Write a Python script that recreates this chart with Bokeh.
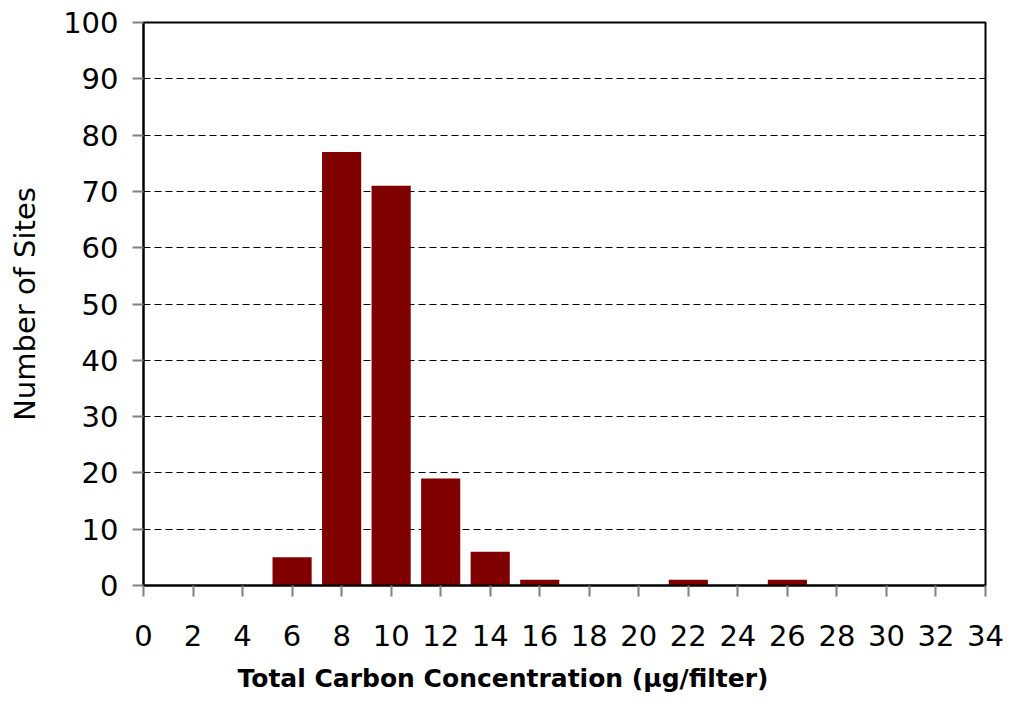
from bokeh.plotting import figure
from bokeh.models import Range1d, FixedTicker, ColumnDataSource, Title
from bokeh.embed import file_html
from bokeh.resources import INLINE

# Data
bin_centers = [2, 4, 6, 8, 10, 12, 14, 16, 18, 20, 22, 24, 26, 28, 30, 32]
site_counts = [0, 0, 5, 77, 71, 19, 6, 1, 0, 0, 1, 0, 1, 0, 0, 0]
x_ticks = list(range(0, 35, 2))
y_ticks = list(range(0, 101, 10))
x_title = "Total Carbon Concentration (µg/filter)"
y_title = "Number of Sites"

FONT = "DejaVu Sans"

p = figure(width=1004, height=706, output_backend="svg", toolbar_location=None,
           x_range=Range1d(0, 34), y_range=Range1d(0, 100),
           min_border_left=143, min_border_top=22, min_border_right=19,
           min_border_bottom=121)
p.background_fill_color = "white"
p.border_fill_color = "white"
p.outline_line_color = "black"
p.outline_line_width = 2

src = ColumnDataSource(dict(x=bin_centers, top=site_counts))
p.vbar(x="x", top="top", width=1.58, bottom=0, source=src,
       fill_color="#800000", line_color=None)

# grid
p.xgrid.visible = False
p.ygrid.ticker = FixedTicker(ticks=list(range(10, 100, 10)))
p.ygrid.grid_line_color = "black"
p.ygrid.grid_line_dash = "7 4"
p.ygrid.grid_line_width = 1

# axes
for ax in (p.xaxis[0], p.yaxis[0]):
    ax.axis_line_color = "black"
    ax.axis_line_width = 2
    ax.major_tick_line_color = "#808080"
    ax.major_tick_line_width = 2
    ax.major_tick_in = 0
    ax.major_tick_out = 11
    ax.minor_tick_line_color = None
    ax.major_label_text_font = FONT
    ax.major_label_text_font_size = "29px"
    ax.major_label_text_color = "black"

p.xaxis.ticker = FixedTicker(ticks=x_ticks)
p.yaxis.ticker = FixedTicker(ticks=y_ticks)
p.xaxis.major_label_standoff = 28
p.yaxis.major_label_standoff = 14

# x title: left-shifted relative to the frame, as in the reference
xt = Title(text=x_title, align="left", offset=94, standoff=27,
           text_font=FONT, text_font_style="bold", text_font_size="25px",
           text_color="black")
p.add_layout(xt, "below")

p.yaxis.axis_label = y_title
p.yaxis.axis_label_text_font = FONT
p.yaxis.axis_label_text_font_style = "normal"
p.yaxis.axis_label_text_font_size = "29px"
p.yaxis.axis_label_text_color = "black"
p.yaxis.axis_label_standoff = 18

open("out.html", "w").write(file_html(p, INLINE))
